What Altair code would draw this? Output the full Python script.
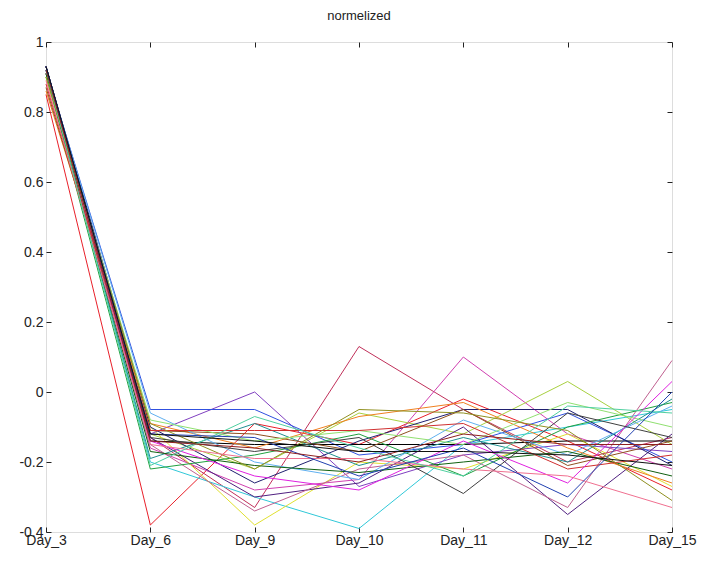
import altair as alt
import pandas as pd

days = ["Day_3", "Day_6", "Day_9", "Day_10", "Day_11", "Day_12", "Day_15"]

series = {
    "s01": [0.85, -0.38, -0.09, -0.15, -0.02, -0.14, -0.28],
    "s02": [0.91, -0.13, -0.33, 0.13, -0.05, -0.20, -0.13],
    "s03": [0.92, -0.16, -0.28, -0.25, 0.10, -0.12, -0.22],
    "s04": [0.90, -0.12, -0.22, -0.06, -0.12, 0.03, -0.15],
    "s05": [0.92, -0.20, -0.30, -0.39, -0.15, -0.10, -0.05],
    "s06": [0.90, -0.10, -0.38, -0.20, -0.22, -0.12, -0.27],
    "s07": [0.93, -0.12, 0.00, -0.27, -0.18, -0.15, -0.17],
    "s08": [0.92, -0.05, -0.05, -0.18, -0.15, -0.06, -0.20],
    "s09": [0.93, -0.13, -0.30, -0.26, -0.10, -0.35, -0.12],
    "s10": [0.91, -0.15, -0.34, -0.22, -0.18, -0.33, 0.09],
    "s11": [0.93, -0.14, -0.15, -0.15, -0.15, -0.14, -0.14],
    "s12": [0.93, -0.10, -0.26, -0.14, -0.05, -0.05, -0.21],
    "s13": [0.91, -0.22, -0.18, -0.12, -0.24, -0.10, -0.03],
    "s14": [0.92, -0.19, -0.09, -0.21, -0.13, -0.20, -0.02],
    "s15": [0.86, -0.09, -0.16, -0.07, -0.03, -0.16, -0.26],
    "s16": [0.87, -0.11, -0.12, -0.17, -0.05, -0.21, -0.14],
    "s17": [0.92, -0.06, -0.20, -0.25, -0.08, -0.18, -0.04],
    "s18": [0.91, -0.17, -0.21, -0.23, -0.20, -0.17, -0.24],
    "s19": [0.90, -0.08, -0.14, -0.11, -0.15, -0.03, -0.10],
    "s20": [0.88, -0.11, -0.11, -0.11, -0.09, -0.22, -0.18],
    "s21": [0.92, -0.14, -0.24, -0.28, -0.14, -0.26, 0.03],
    "s22": [0.93, -0.13, -0.17, -0.13, -0.29, -0.06, -0.13],
    "s23": [0.90, -0.09, -0.22, -0.05, -0.06, -0.11, -0.31],
    "s24": [0.89, -0.15, -0.19, -0.19, -0.22, -0.24, -0.33],
    "s25": [0.92, -0.21, -0.07, -0.16, -0.24, -0.04, -0.06],
    "s26": [0.93, -0.12, -0.13, -0.24, -0.16, -0.30, 0.00],
    "s27": [0.92, -0.14, -0.16, -0.20, -0.12, -0.15, -0.15],
    "s28": [0.93, -0.12, -0.14, -0.17, -0.17, -0.18, -0.21],
}

colors = [
    "#e8202a", "#c0305a", "#d040b0", "#a8d040", "#30c8d8", "#e0e030",
    "#8040c0", "#3050e0", "#502080", "#c06090", "#000000", "#202070",
    "#20a040", "#209090", "#f08020", "#905020", "#60b0f0", "#106010",
    "#90e070", "#d03030", "#e020e0", "#404040", "#909020", "#f07090",
    "#50d0a0", "#2040b0", "#902020", "#101010",
]

rows = []
for name, vals in series.items():
    for d, v in zip(days, vals):
        rows.append({"series": name, "day": d, "value": v})
df = pd.DataFrame(rows)

yticks = [-0.4, -0.2, 0, 0.2, 0.4, 0.6, 0.8, 1]
label_expr = "datum.value == 0 ? '0' : toString(round(datum.value * 10) / 10)"

xscale = alt.Scale(type="point", padding=0)
yscale = alt.Scale(domain=[-0.4, 1], nice=False, zero=False)

lines = alt.Chart(df).mark_line(strokeWidth=1).encode(
    x=alt.X("day:N", sort=days, scale=xscale,
            axis=alt.Axis(orient="bottom", title=None, labelAngle=0, offset=-5,
                          tickSize=5, domain=False, labelPadding=1,
                          labelFontSize=14, labelColor="#222", tickColor="#222")),
    y=alt.Y("value:Q", scale=yscale,
            axis=alt.Axis(orient="left", title=None, values=yticks, labelExpr=label_expr,
                          offset=-5, tickSize=5, domain=False, labelPadding=3,
                          labelFontSize=14, labelColor="#222", tickColor="#222", grid=False)),
    color=alt.Color("series:N", scale=alt.Scale(domain=list(series.keys()), range=colors),
                    legend=None),
)

mirror = alt.Chart(df).mark_line(strokeWidth=1, opacity=0).encode(
    x=alt.X("day:N", sort=days, scale=xscale,
            axis=alt.Axis(orient="top", title=None, labels=False, offset=-5,
                          tickSize=5, domain=False, tickColor="#222")),
    y=alt.Y("value:Q", scale=yscale,
            axis=alt.Axis(orient="right", title=None, values=yticks, labels=False,
                          offset=-5, tickSize=5, domain=False, tickColor="#222", grid=False)),
    detail="series:N",
)

chart = alt.layer(lines, mirror).properties(
    width=626,
    height=490,
    title=alt.TitleParams("normelized", fontSize=13, fontWeight="normal", color="#222",
                          offset=12, anchor="middle"),
    autosize=alt.AutoSizeParams(type="none"),
    padding={"left": 38, "top": 34, "right": 26, "bottom": 23},
).configure_view(stroke="#222", strokeWidth=1.2).configure(
    font="Liberation Sans"
).configure_axis(grid=False)

chart.save("out.html", embed_options={"renderer": "svg", "actions": False})
